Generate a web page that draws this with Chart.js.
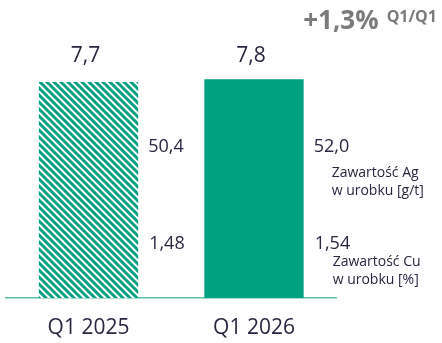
<!DOCTYPE html>
<html>
<head>
<meta charset="utf-8">
<title>Zawartość metali w urobku</title>
<script src="https://cdn.jsdelivr.net/npm/chart.js"></script>
<style>
  html, body { margin: 0; padding: 0; background: #fff; }
  canvas { display: block; }
</style>
</head>
<body>
<canvas id="oreChart" width="442" height="343"></canvas>
<script>
const quarters = ['Q1 2025', 'Q1 2026'];
const oreMined = [7.7, 7.8];      // bar heights
const agContent = [50.4, 52.0];   // g/t
const cuContent = [1.48, 1.54];   // %
const agCaption = ['Zawartość Ag', 'w urobku [g/t]'];
const cuCaption = ['Zawartość Cu', 'w urobku [%]'];
const compareLabel = 'Q1/Q1';

const GREEN = '#00a082';
const INK = '#29263f';
const GREY = '#7b7b7b';
const FONT = "'Open Sans', sans-serif";

function fmt(v, digits) {
    return v.toFixed(digits).replace('.', ',');
}

// diagonal stripes for the previous-year bar
function makeHatch() {
    const s = 7;
    const c = document.createElement('canvas');
    c.width = s; c.height = s;
    const g = c.getContext('2d');
    g.fillStyle = '#fff';
    g.fillRect(0, 0, s, s);
    g.strokeStyle = GREEN;
    g.lineWidth = 3;
    g.beginPath();
    for (const x0 of [-s, 0, s]) {
        g.moveTo(x0 - 1, -1);
        g.lineTo(x0 + s + 1, s + 1);
    }
    g.stroke();
    return g.createPattern(c, 'repeat');
}

const annotations = {
    id: 'annotations',
    afterDatasetsDraw(chart) {
        const ctx = chart.ctx;
        const bars = chart.getDatasetMeta(0).data;
        ctx.save();
        ctx.fillStyle = INK;
        ctx.textBaseline = 'middle';

        // totals above the bars, on one line
        const topY = Math.min(...bars.map(b => b.y)) - 23;
        ctx.font = `21px ${FONT}`;
        ctx.textAlign = 'center';
        bars.forEach((b, i) => ctx.fillText(fmt(oreMined[i], 1), b.x - 3, topY));

        // grades next to each bar
        ctx.textAlign = 'left';
        ctx.font = `18px ${FONT}`;
        bars.forEach((b, i) => {
            const right = b.x + b.width / 2;
            ctx.fillText(fmt(agContent[i], 1), right + 10, 147);
            ctx.fillText(fmt(cuContent[i], 2), right + 11, 244);
        });

        // captions after the last bar
        const last = bars[bars.length - 1];
        const capX = last.x + last.width / 2 + 28;
        ctx.font = `14px ${FONT}`;
        agCaption.forEach((t, i) => ctx.fillText(t, capX, 173 + i * 18));
        cuCaption.forEach((t, i) => ctx.fillText(t, capX + 1, 262 + i * 18));

        // change vs previous year, top right
        const change = (oreMined[1] / oreMined[0] - 1) * 100;
        const big = (change >= 0 ? '+' : '') + fmt(change, 1) + '%';
        ctx.fillStyle = GREY;
        ctx.font = `bold 16px ${FONT}`;
        const w2 = ctx.measureText(compareLabel).width;
        const x2 = 437 - w2;
        ctx.fillText(compareLabel, x2, 17);
        ctx.font = `bold 26px ${FONT}`;
        ctx.textAlign = 'right';
        ctx.fillText(big, x2 - 8, 22);

        ctx.restore();
    }
};

new Chart(document.getElementById('oreChart'), {
    type: 'bar',
    data: {
        labels: quarters,
        datasets: [{
            data: oreMined,
            backgroundColor: [makeHatch(), GREEN],
            borderWidth: 0,
            barPercentage: 0.6,
            categoryPercentage: 1
        }]
    },
    options: {
        responsive: false,
        animation: false,
        layout: { padding: { left: 5.75, right: 105.25, top: 73.6, bottom: 0 } },
        scales: {
            y: { display: false, min: 0, max: 8 },
            x: {
                grid: { display: false, drawTicks: false },
                border: { display: true, color: '#5bbfa9', width: 1.5 },
                ticks: { color: INK, font: { family: FONT, size: 21 }, padding: 17 },
                afterFit: scale => { scale.height = 45; }
            }
        },
        plugins: {
            legend: { display: false },
            tooltip: { enabled: false }
        }
    },
    plugins: [annotations]
});
</script>
</body>
</html>
